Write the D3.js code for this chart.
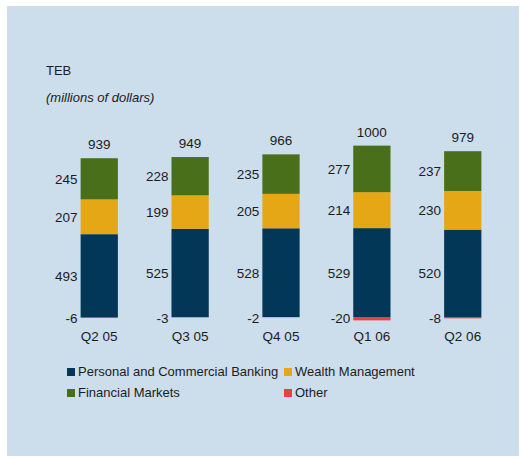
<!DOCTYPE html>
<html>
<head>
<meta charset="utf-8">
<script src="https://cdn.jsdelivr.net/npm/d3@7"></script>
<style>
  body { margin: 0; background: #fff; }
  svg text { font-family: "Liberation Sans", Arial, sans-serif; fill: #1c1c1c; }
</style>
</head>
<body>
<svg id="chart"></svg>
<script>
// quarters and segment values (millions of dollars)
const categories = ["Q2 05", "Q3 05", "Q4 05", "Q1 06", "Q2 06"];
const personalCommercial = [493, 525, 528, 529, 520];
const wealthManagement = [207, 199, 205, 214, 230];
const financialMarkets = [245, 228, 235, 277, 237];
const other = [-6, -3, -2, -20, -8];
const totals = [939, 949, 966, 1000, 979];

const seriesKeys = ["pcb", "wm", "fm", "other"];
const seriesNames = ["Personal and Commercial Banking", "Wealth Management", "Financial Markets", "Other"];
const seriesColors = ["#023757", "#E5A715", "#4A6F1B", "#E8423A"];

const width = 520, height = 457;

const svg = d3.select("#chart")
    .attr("width", width)
    .attr("height", height);

// panel background
svg.append("rect")
    .attr("x", 7).attr("y", 6)
    .attr("width", 512).attr("height", 450)
    .attr("fill", "#CCDDEC");

svg.append("text")
    .attr("x", 46).attr("y", 75)
    .style("font-size", "13px")
    .text("TEB");

svg.append("text")
    .attr("x", 46).attr("y", 102)
    .style("font-size", "13px")
    .style("font-style", "italic")
    .text("(millions of dollars)");

// build table for the stack
const table = categories.map((c, i) => ({
    cat: c,
    pcb: personalCommercial[i],
    wm: wealthManagement[i],
    fm: financialMarkets[i],
    other: other[i],
    total: totals[i]
}));

const x = d3.scaleBand()
    .domain(categories)
    .range([27, 535])
    .paddingInner(0.59)
    .paddingOuter(0.59);

const y = d3.scaleLinear()
    .domain([0, 1000])
    .range([317, 149]);

const stack = d3.stack()
    .keys(seriesKeys)
    .offset(d3.stackOffsetDiverging);

const stacked = stack(table);
const color = d3.scaleOrdinal().domain(seriesKeys).range(seriesColors);

const layers = svg.append("g")
    .selectAll("g")
    .data(stacked)
    .join("g")
    .attr("fill", d => color(d.key));

layers.selectAll("rect")
    .data(d => d)
    .join("rect")
    .attr("x", d => x(d.data.cat))
    .attr("width", x.bandwidth())
    .attr("y", d => y(Math.max(d[0], d[1])))
    .attr("height", d => Math.abs(y(d[0]) - y(d[1])));

// segment value labels, left of each bar
const labels = svg.append("g")
    .style("font-size", "13.5px")
    .attr("text-anchor", "end");

stacked.forEach(layer => {
    labels.selectAll(null)
        .data(layer)
        .join("text")
        .attr("x", d => x(d.data.cat) - 3)
        .attr("y", d => layer.key === "other"
            ? y(0) + 6
            : (y(d[0]) + y(d[1])) / 2 + 5)
        .text(d => d.data[layer.key]);
});

// totals above bars
svg.append("g")
    .style("font-size", "13.5px")
    .attr("text-anchor", "middle")
    .selectAll("text")
    .data(table)
    .join("text")
    .attr("x", d => x(d.cat) + x.bandwidth() / 2)
    .attr("y", d => y(d.pcb + d.wm + d.fm) - 9)
    .text(d => d.total);

// category axis labels
const xAxis = d3.axisBottom(x).tickSize(0).tickPadding(0);
const axisG = svg.append("g")
    .attr("transform", `translate(0,${y(0) + 14})`)
    .call(xAxis);
axisG.select(".domain").remove();
axisG.selectAll("text")
    .attr("dy", "0.71em")
    .style("font-size", "13.5px")
    .style("font-family", "Liberation Sans, Arial, sans-serif")
    .attr("fill", "#1c1c1c");

// legend, two columns
const legendPos = [[67, 371], [284, 371], [67, 392], [284, 392]];
const legend = svg.append("g")
    .selectAll("g")
    .data(seriesKeys)
    .join("g")
    .attr("transform", (d, i) => `translate(${legendPos[i][0]},${legendPos[i][1]})`);

legend.append("rect")
    .attr("x", 0).attr("y", -3)
    .attr("width", 8).attr("height", 8)
    .attr("fill", d => color(d));

legend.append("text")
    .attr("x", 11).attr("y", 5)
    .style("font-size", "13px")
    .text((d, i) => seriesNames[i]);
</script>
</body>
</html>
